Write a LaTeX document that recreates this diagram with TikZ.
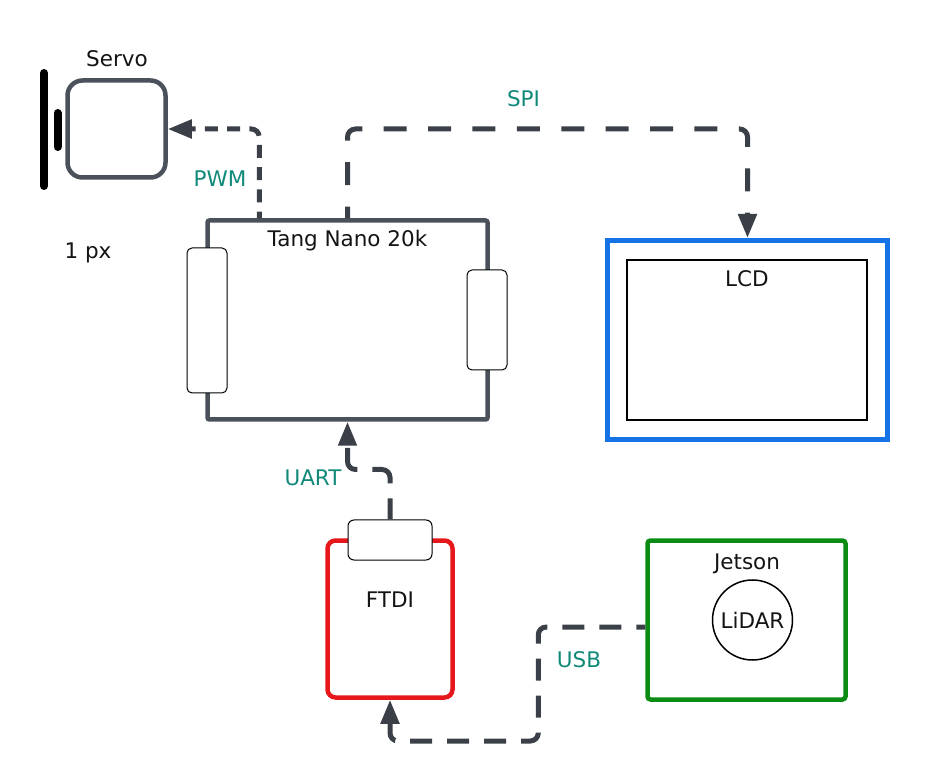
\documentclass[tikz,border=0pt]{standalone}
\usepackage{fontspec}
\setmainfont{DejaVu Sans}
\usetikzlibrary{arrows.meta,calc}
\definecolor{boardgray}{RGB}{75,81,90}
\definecolor{conngray}{RGB}{59,64,72}
\definecolor{labelteal}{RGB}{16,137,121}
\definecolor{lcdblue}{RGB}{22,115,230}
\definecolor{ftdired}{RGB}{230,24,28}
\definecolor{jetgreen}{RGB}{10,140,20}
\definecolor{inkblack}{RGB}{20,20,20}
\begin{document}
\begin{tikzpicture}[x=1pt,y=-1pt,
  txt/.style={font=\fontsize{21.5}{26}\selectfont, text=inkblack, inner sep=0pt, anchor=base},
  lbl/.style={txt, text=labelteal},
  conn/.style={draw=conngray, line width=5pt, rounded corners=8pt, -{Triangle[length=24pt,width=18pt]}},
  plug/.style={draw=black, line width=1pt, fill=white, rounded corners=5pt, inner sep=0pt},
  box/.style={line width=4.5pt, inner sep=0pt},
]
\useasboundingbox (0,0) rectangle (927,783);

% Servo
\node[box, draw=boardgray, rounded corners=15pt, minimum width=98pt, minimum height=97pt] (servo) at (116.5,129) {};
\draw[line width=8pt, line cap=round] (44,73) -- (44,186);
\draw[line width=8pt, line cap=round] (57.5,113) -- (57.5,147);
\node[txt] (servolbl) at (117,67) {Servo};
\node[txt] (pxlbl) at (88,259) {1 px};

% Tang Nano
\node[box, draw=boardgray, rounded corners=2pt, minimum width=280pt, minimum height=199pt] (tang) at (347.5,320) {};
\node[plug, minimum width=40pt, minimum height=145pt] (lplug) at (207,320.5) {};
\node[plug, minimum width=40pt, minimum height=100pt] (rplug) at (487,320) {};
\node[txt] (tanglbl) at (347.5,247) {Tang Nano 20k};

% LCD
\node[draw=lcdblue, line width=5pt, inner sep=0pt, minimum width=280pt, minimum height=199pt] (lcd) at (747.5,340) {};
\node[draw=black, line width=2pt, inner sep=0pt, minimum width=240pt, minimum height=160pt] (lcdscreen) at (747,340) {};
\node[txt] (lcdlbl) at (747,287) {LCD};

% FTDI
\node[box, draw=ftdired, rounded corners=8pt, minimum width=125pt, minimum height=157pt] (ftdi) at (390,619) {};
\node[plug, rounded corners=6pt, minimum width=84pt, minimum height=40pt] (ftdiplug) at (390,540) {};
\node[txt] (ftdilbl) at (390,607) {FTDI};

% Jetson
\node[box, draw=jetgreen, rounded corners=3pt, minimum width=198pt, minimum height=159pt] (jetson) at (746.5,620) {};
\node[txt] (jetlbl) at (747,569) {Jetson};
\node[circle, draw=black, line width=1.5pt, minimum size=80pt, inner sep=0pt] (lidar) at (752.5,620) {};
\node[txt] (lidarlbl) at (752.5,628) {LiDAR};

% Connectors
\draw[conn, dash pattern=on 13pt off 9.25pt, dash phase=6.5pt] ([xshift=54pt]tang.north west) |- (servo.east);
\draw[conn, dash pattern=on 23pt off 21.4pt, dash phase=11.3pt] (tang.north) -- (tang.north |- servo.east) -| (lcd.north);
\draw[conn, dash pattern=on 28pt off 15pt, dash phase=7pt] (ftdiplug.north) -- ++(0,-50) -| (tang.south);
\draw[conn, dash pattern=on 22pt off 15pt, dash phase=13pt] ([yshift=-7pt]jetson.west) -- ++(-107,0) -- ++(0,114) -| (ftdi.south);

% Connector labels
\node[lbl] (pwmlbl) at (220,187) {PWM};
\node[lbl] (spilbl) at (523.5,107) {SPI};
\node[lbl] (uartlbl) at (313,486) {UART};
\node[lbl] (usblbl) at (579,667) {USB};
\end{tikzpicture}
\end{document}
